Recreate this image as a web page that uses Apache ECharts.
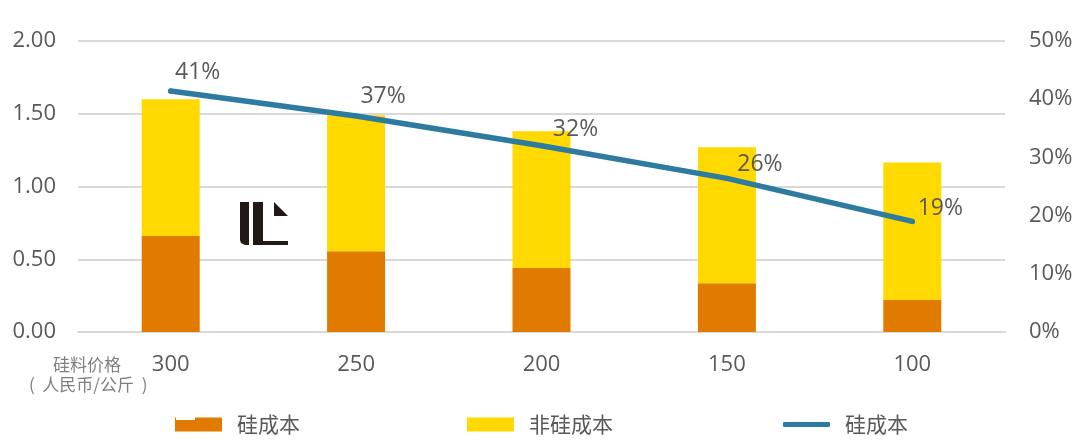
<!DOCTYPE html>
<html>
<head>
<meta charset="UTF-8">
<title>硅成本</title>
<script src="https://cdn.jsdelivr.net/npm/echarts@6/dist/echarts.min.js"></script>
<style>
html,body{margin:0;padding:0;background:#fff;}
#main{width:1080px;height:446px;}
</style>
</head>
<body>
<div id="main"></div>
<script>
var categories = ['300', '250', '200', '150', '100'];
var siCost = [0.66, 0.555, 0.44, 0.335, 0.22];
var nonSiCost = [0.94, 0.935, 0.94, 0.935, 0.945];
var siShare = [41.4, 37.1, 32, 26.4, 19];
var shareLabels = ['41%', '37%', '32%', '26%', '19%'];
var labelOffsets = [[27, 0], [27, -1], [34, 3], [33, 5], [28, 6]];

var font = '"Open Sans", "Noto Sans CJK SC", sans-serif';
var cjk = '"Noto Sans CJK SC", sans-serif';
var grey = '#595959';

function legendAt(name, left, icon, h) {
  return {
    data: [{name: name, icon: icon}],
    left: left, top: 414,
    itemWidth: 47, itemHeight: h,
    padding: 0,
    textStyle: {fontFamily: cjk, fontSize: 21, color: grey, padding: [0, 0, 2, 10]}
  };
}

var myChart = echarts.init(document.getElementById('main'));
var option = {
  animation: false,
  backgroundColor: '#fff',
  grid: {left: 78, right: 75, top: 41, bottom: 114},
  legend: [
    legendAt('硅成本', 175, 'rect', 14),
    legendAt('非硅成本', 467, 'rect', 14),
    legendAt('硅成本 ', 783, 'roundRect', 5)
  ],
  xAxis: {
    type: 'category',
    data: categories,
    axisLine: {lineStyle: {color: '#d9d9d9', width: 2}},
    axisTick: {show: false},
    axisLabel: {fontFamily: font, fontSize: 22, color: grey, margin: 22}
  },
  yAxis: [
    {
      type: 'value', min: 0, max: 2, interval: 0.5,
      axisLine: {show: false}, axisTick: {show: false},
      splitLine: {lineStyle: {color: '#d9d9d9', width: 2}},
      axisLabel: {fontFamily: font, fontSize: 22, color: grey, margin: 22, padding: [2, 0, 0, 0],
        formatter: function (v) { return v.toFixed(2); }}
    },
    {
      type: 'value', min: 0, max: 50, interval: 10,
      axisLine: {show: false}, axisTick: {show: false},
      splitLine: {show: false},
      axisLabel: {fontFamily: font, fontSize: 22, color: grey, margin: 24, padding: [2, 0, 0, 0], formatter: '{value}%'}
    }
  ],
  series: [
    {
      name: '硅成本', type: 'bar', stack: 'cost', barWidth: 58,
      itemStyle: {color: '#e07b00'}, data: siCost
    },
    {
      name: '非硅成本', type: 'bar', stack: 'cost', barWidth: 58,
      itemStyle: {color: '#ffd900'}, data: nonSiCost
    },
    {
      name: '硅成本 ', type: 'line', yAxisIndex: 1,
      symbol: 'circle', symbolSize: 5, showSymbol: true,
      lineStyle: {color: '#2e7ba0', width: 5.5, cap: 'round'},
      itemStyle: {color: '#2e7ba0'},
      data: siShare.map(function (v, i) {
        return {
          value: v,
          label: {
            show: true, position: 'top', offset: labelOffsets[i],
            formatter: shareLabels[i],
            fontFamily: font, fontSize: 23, color: grey
          }
        };
      })
    }
  ],
  graphic: [
    {type: 'text', left: 53, top: 356, style: {text: '硅料价格', fontFamily: cjk, fontSize: 17, fill: '#7f7f7f'}},
    {type: 'text', left: 29, top: 376, style: {text: '(  人民币/公斤  )', fontFamily: cjk, fontSize: 17, fill: '#7f7f7f'}},
    // logo
    {type: 'polygon', shape: {points: [[240, 202], [249, 202], [249, 245], [245, 245], [241, 243], [240, 240]]}, style: {fill: '#231815'}},
    {type: 'polygon', shape: {points: [[253, 202], [263, 202], [263, 241], [288, 241], [288, 245], [253, 245]]}, style: {fill: '#231815'}},
    {type: 'polygon', shape: {points: [[274, 202], [288, 216], [274, 216]]}, style: {fill: '#231815'}},
    // white specks on the first legend swatch
    {type: 'rect', z: 100, shape: {x: 176, y: 417, width: 19, height: 3}, style: {fill: '#fff'}}
  ]
};
myChart.setOption(option);
</script>
</body>
</html>
